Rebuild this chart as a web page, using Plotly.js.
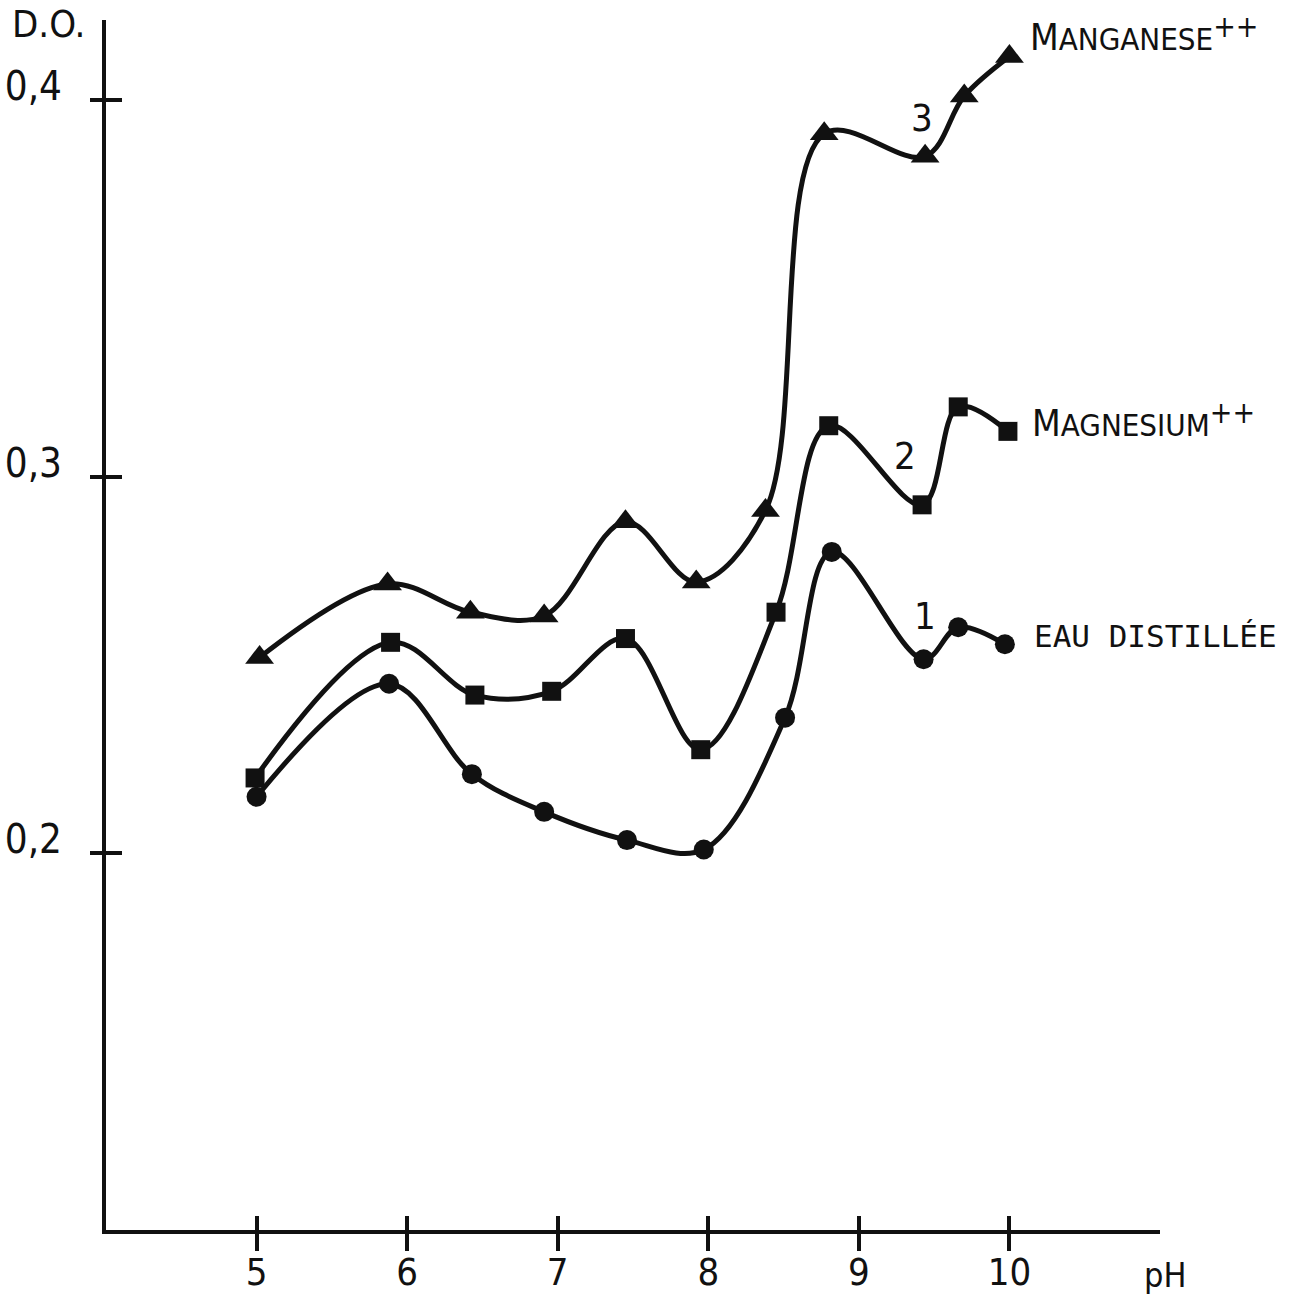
<!DOCTYPE html>
<html>
<head>
<meta charset="utf-8">
<script src="https://cdn.plot.ly/plotly-3.0.1.min.js"></script>
<style>
  html, body { margin: 0; padding: 0; background: #fff; }
  #chart { width: 1296px; height: 1295px; }
</style>
</head>
<body>
<div id="chart"></div>
<script>
// Optical density (D.O.) against pH for three media
const phEau = [5.0, 5.88, 6.43, 6.91, 7.46, 7.97, 8.51, 8.82, 9.43, 9.66, 9.97];
const doEau = [0.215, 0.245, 0.221, 0.211, 0.2035, 0.201, 0.236, 0.280, 0.2515, 0.260, 0.2555];

const phMg = [4.99, 5.89, 6.45, 6.96, 7.45, 7.95, 8.45, 8.80, 9.42, 9.66, 9.99];
const doMg = [0.220, 0.256, 0.242, 0.243, 0.257, 0.2275, 0.264, 0.3135, 0.2925, 0.3185, 0.312];

const phMn = [5.02, 5.87, 6.42, 6.91, 7.45, 7.92, 8.38, 8.77, 9.44, 9.70, 10.0];
const doMn = [0.252, 0.2715, 0.264, 0.263, 0.288, 0.272, 0.291, 0.391, 0.385, 0.401, 0.4115];

const xTicks = [5, 6, 7, 8, 9, 10];
const xTickText = ['5', '6', '7', '8', '9', '10'];
const yTicks = [0.2, 0.3, 0.4];
const yTickText = ['0,2', '0,3', '0,4'];

const ink = '#111111';
const labelFont = 'Liberation Sans Narrow, DejaVu Sans Condensed, Arial Narrow, sans-serif';
const monoFont = 'DejaVu Sans Mono, Liberation Mono, monospace';

function series(x, y, symbol, size) {
  return {
    x: x, y: y, type: 'scatter', mode: 'lines+markers',
    line: { color: ink, width: 5, shape: 'spline', smoothing: 1 },
    marker: { color: ink, symbol: symbol, size: size },
    hoverinfo: 'x+y', showlegend: false
  };
}

const traces = [
  series(phEau, doEau, 'circle', 20),
  series(phMg, doMg, 'square', 19),
  series(phMn, doMn, 'triangle-up', 25),
  // carries the inward half of the crossing tick marks
  { x: [], y: [], xaxis: 'x2', yaxis: 'y2', type: 'scatter', mode: 'markers', showlegend: false, hoverinfo: 'skip' }
];

const xRange = [4, 11];
const yRange = [0.1, 0.4212];

const layout = {
  width: 1296, height: 1295,
  margin: { l: 106, r: 136, t: 20, b: 65 },
  paper_bgcolor: '#ffffff', plot_bgcolor: '#ffffff',
  showlegend: false,
  xaxis: {
    range: xRange, showgrid: false, zeroline: false,
    showline: true, linecolor: ink, linewidth: 4,
    ticks: 'outside', ticklen: 17, tickwidth: 4, tickcolor: ink,
    tickvals: xTicks, ticktext: xTickText,
    ticklabelstandoff: -12,
    tickfont: { family: labelFont, size: 38, color: ink }
  },
  xaxis2: {
    range: xRange, overlaying: 'x', anchor: 'y2', side: 'bottom',
    showgrid: false, zeroline: false, showline: false,
    ticks: 'inside', ticklen: 14, tickwidth: 4, tickcolor: ink,
    tickvals: xTicks, showticklabels: false
  },
  yaxis: {
    range: yRange, showgrid: false, zeroline: false,
    showline: true, linecolor: ink, linewidth: 4,
    ticks: 'outside', ticklen: 12, tickwidth: 4, tickcolor: ink,
    tickvals: yTicks, ticktext: yTickText,
    ticklabelstandoff: 20, ticklabelshift: -14,
    tickfont: { family: labelFont, size: 40, color: ink }
  },
  yaxis2: {
    range: yRange, overlaying: 'y', anchor: 'x2', side: 'left',
    showgrid: false, zeroline: false, showline: false,
    ticks: 'inside', ticklen: 16, tickwidth: 4, tickcolor: ink,
    tickvals: yTicks, showticklabels: false
  },
  annotations: [
    { xref: 'paper', yref: 'paper', x: -0.091, y: 0.997, xanchor: 'left', yanchor: 'middle',
      text: 'D.O.', showarrow: false, font: { family: labelFont, size: 38, color: ink } },
    { xref: 'paper', yref: 'paper', x: 1.005, y: -0.037, xanchor: 'center', yanchor: 'middle',
      text: 'pH', showarrow: false, font: { family: labelFont, size: 34, color: ink } },
    { xref: 'x', yref: 'y', x: 10.12, y: 0.4175, xanchor: 'left', yanchor: 'middle',
      text: '<span style="font-size:37px">M</span>ANGANESE<sup><span style="font-size:30px">++</span></sup>', showarrow: false,
      font: { family: labelFont, size: 31, color: ink } },
    { xref: 'x', yref: 'y', x: 10.135, y: 0.315, xanchor: 'left', yanchor: 'middle',
      text: '<span style="font-size:37px">M</span>AGNESIUM<sup><span style="font-size:30px">++</span></sup>', showarrow: false,
      font: { family: labelFont, size: 31, color: ink } },
    { xref: 'x', yref: 'y', x: 10.15, y: 0.2576, xanchor: 'left', yanchor: 'middle',
      text: 'EAU DISTILLÉE', showarrow: false,
      font: { family: monoFont, size: 31, color: ink } },
    { xref: 'x', yref: 'y', x: 9.42, y: 0.3952, xanchor: 'center', yanchor: 'middle',
      text: '3', showarrow: false, font: { family: labelFont, size: 38, color: ink } },
    { xref: 'x', yref: 'y', x: 9.305, y: 0.3054, xanchor: 'center', yanchor: 'middle',
      text: '2', showarrow: false, font: { family: labelFont, size: 38, color: ink } },
    { xref: 'x', yref: 'y', x: 9.44, y: 0.263, xanchor: 'center', yanchor: 'middle',
      text: '1', showarrow: false, font: { family: labelFont, size: 38, color: ink } }
  ]
};

Plotly.newPlot('chart', traces, layout, { displayModeBar: false, staticPlot: true });
</script>
</body>
</html>
